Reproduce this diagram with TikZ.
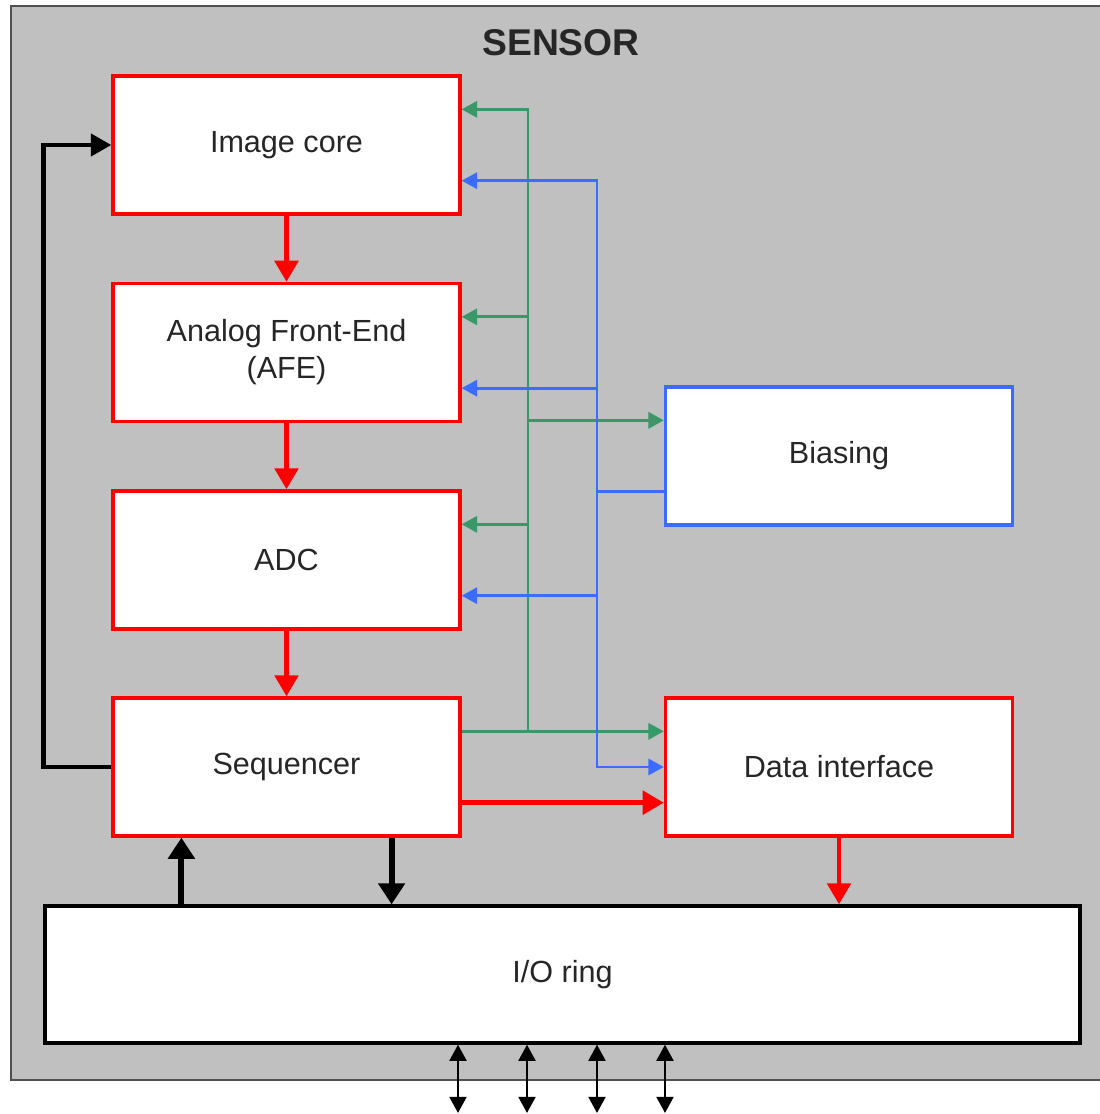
\documentclass[tikz,border=0pt]{standalone}
\usepackage{fontspec}
\setmainfont{Liberation Sans}
\usetikzlibrary{calc,arrows.meta}
\definecolor{Chip}{RGB}{192,192,192}
\definecolor{ChipEdge}{RGB}{80,80,80}
\definecolor{DataPath}{RGB}{255,0,0}
\definecolor{Control}{RGB}{58,152,104}
\definecolor{Bias}{RGB}{60,108,255}
\definecolor{Label}{RGB}{38,38,38}

\begin{document}
\begin{tikzpicture}
			\tikzstyle{block}=[draw, shape=rectangle, fill=white, line width=0.95pt, minimum width=3.47cm, minimum height=1.38cm, align=center, text=Label, font=\fontsize{8.7}{10.5}\selectfont];
			\tikzstyle{redblock}=[block, draw=DataPath];
			\tikzstyle{ctrl}=[draw=Control, line width=0.8pt, -{Triangle[length=4.4pt, width=4.6pt]}];
			\tikzstyle{bias}=[draw=Bias, line width=0.8pt, -{Triangle[length=4.4pt, width=4.6pt]}];
			\tikzstyle{flow}=[draw=DataPath, line width=1.4pt, -{Triangle[length=6pt, width=6.6pt]}];
			\tikzstyle{loopback}=[draw=black, line width=1.3pt, -{Triangle[length=5.8pt, width=6.2pt]}];
			\tikzstyle{iolink}=[draw=black, line width=1.7pt, -{Triangle[length=6pt, width=7.4pt]}];
			\tikzstyle{pin}=[draw=black, line width=0.7pt, {Triangle[length=4.6pt, width=4.8pt]}-{Triangle[length=4.6pt, width=4.8pt]}];
			\useasboundingbox (0,0) rectangle (10.99,-11.14);
			\draw [draw=ChipEdge, fill=Chip, line width=0.7pt] (0.11,-0.06) rectangle (11.1,-10.8);
			\node [font=\fontsize{10.6}{12}\selectfont\bfseries, text=Label] (title) at (5.61,-0.43) {SENSOR};
			\node [redblock] (core) at (2.865,-1.45) {Image core};
			\node [redblock] (afe) at (2.865,-3.525) {Analog Front-End\\(AFE)};
			\node [redblock] (adc) at (2.865,-5.60) {ADC};
			\node [redblock] (seq) at (2.865,-7.67) {Sequencer};
			\node [block, draw=Bias] (bias) at (8.39,-4.56) {Biasing};
			\node [redblock] (data) at (8.39,-7.67) {Data interface};
			\node [block, draw=black, minimum width=10.35cm, minimum height=1.37cm] (io) at (5.625,-9.745) {I/O ring};
			\coordinate (gbus) at (5.28,0);
			\coordinate (bbus) at (5.97,0);
			\coordinate (gseq) at ($(seq.north east)+(0,-.35)$);
			\coordinate (gcore) at ($(core.north east)+(0,-.35)$);
			\coordinate (gafe) at ($(afe.north east)+(0,-.35)$);
			\coordinate (gadc) at ($(adc.north east)+(0,-.35)$);
			\coordinate (gbias) at ($(bias.north west)+(0,-.35)$);
			\coordinate (bcore) at ($(core.south east)+(0,.35)$);
			\coordinate (bafe) at ($(afe.south east)+(0,.35)$);
			\coordinate (badc) at ($(adc.south east)+(0,.35)$);
			\coordinate (bbias) at ($(bias.south west)+(0,.35)$);
			\coordinate (rseq) at ($(seq.south east)+(0,.35)$);
			\coordinate (sup) at ($(seq.south west)!.2!(seq.south east)$);
			\coordinate (sdown) at ($(seq.south west)!.8!(seq.south east)$);
			\draw [ctrl] (gseq) -- (data.west |- gseq);
			\draw [ctrl] (gbus |- gseq) -- (gbus |- gcore) -- (gcore);
			\draw [ctrl] (gbus |- gafe) -- (gafe);
			\draw [ctrl] (gbus |- gadc) -- (gadc);
			\draw [ctrl] (gbus |- gbias) -- (gbias);
			\draw [bias, -] (bbias) -- (bbus |- bbias);
			\draw [bias, {Triangle[length=4.4pt, width=4.6pt]}-{Triangle[length=4.4pt, width=4.6pt]}] (bcore) -- (bbus |- bcore) -- (bbus |- data.west) -- (data.west);
			\draw [bias] (bbus |- bafe) -- (bafe);
			\draw [bias] (bbus |- badc) -- (badc);
			\draw [flow] (core) -- (afe);
			\draw [flow] (afe) -- (adc);
			\draw [flow] (adc) -- (seq);
			\draw [flow] (rseq) -- (data.west |- rseq);
			\draw [flow] (data.south) -- (data.south |- io.north);
			\draw [loopback] (seq.west) -- ++(-.68,0) |- (core.west);
			\draw [iolink] (sup |- io.north) -- (sup);
			\draw [iolink] (sdown) -- (sdown |- io.north);
			\foreach \x [count=\i] in {4.58,5.27,5.97,6.65}
				\coordinate (pad\i) at (\x,-11.13);
			\foreach \i in {1,...,4}
				\draw [pin] (pad\i |- io.south) -- (pad\i);
		\end{tikzpicture}
\end{document}
